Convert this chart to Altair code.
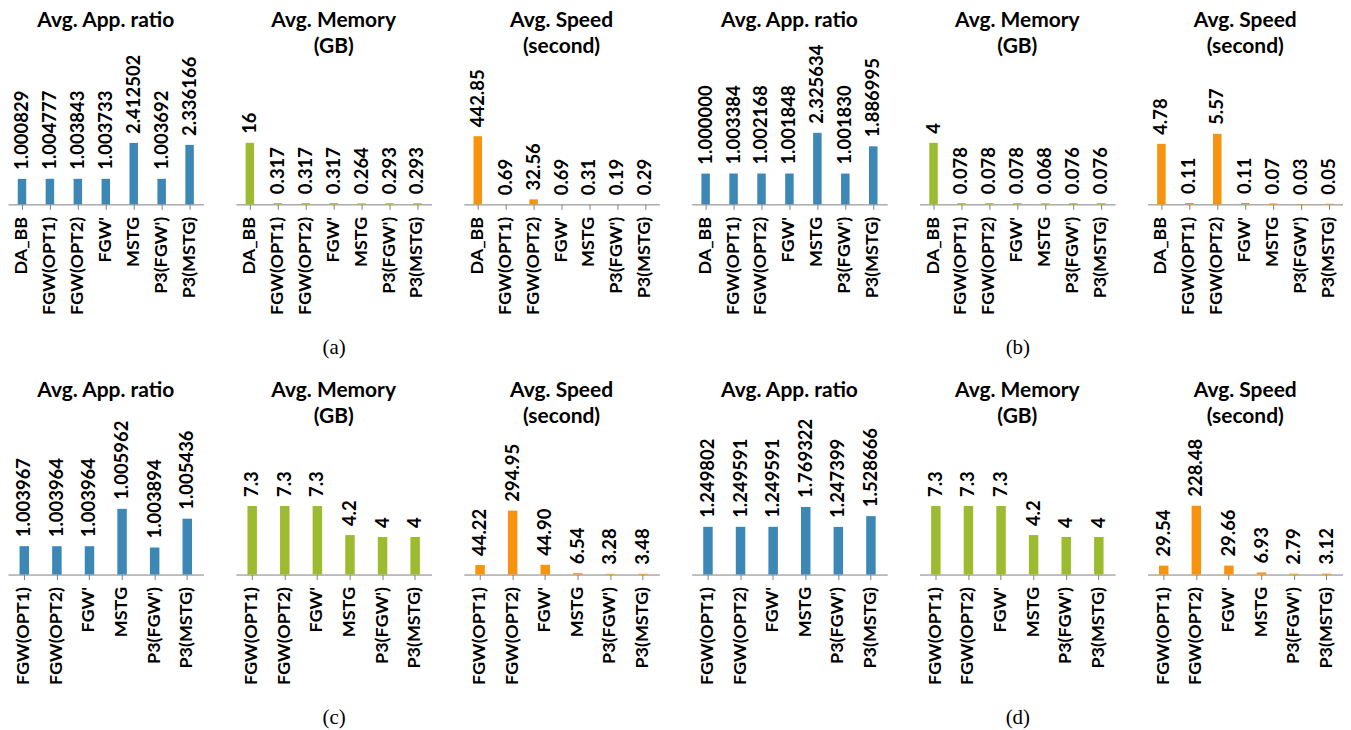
import altair as alt
import pandas as pd

# ---------------- data ----------------
cats7 = ["DA_BB", "FGW(OPT1)", "FGW(OPT2)", "FGW'", "MSTG", "P3(FGW')", "P3(MSTG)"]
cats6 = ["FGW(OPT1)", "FGW(OPT2)", "FGW'", "MSTG", "P3(FGW')", "P3(MSTG)"]

a_ratio = [1.000829, 1.004777, 1.003843, 1.003733, 2.412502, 1.003692, 2.336166]
a_mem = [16, 0.317, 0.317, 0.317, 0.264, 0.293, 0.293]
a_speed = [442.85, 0.69, 32.56, 0.69, 0.31, 0.19, 0.29]

b_ratio = [1.000000, 1.003384, 1.002168, 1.001848, 2.325634, 1.001830, 1.886995]
b_mem = [4, 0.078, 0.078, 0.078, 0.068, 0.076, 0.076]
b_speed = [4.78, 0.11, 5.57, 0.11, 0.07, 0.03, 0.05]

c_ratio = [1.003967, 1.003964, 1.003964, 1.005962, 1.003894, 1.005436]
c_mem = [7.3, 7.3, 7.3, 4.2, 4, 4]
c_speed = [44.22, 294.95, 44.90, 6.54, 3.28, 3.48]

d_ratio = [1.249802, 1.249591, 1.249591, 1.769322, 1.247399, 1.528666]
d_mem = [7.3, 7.3, 7.3, 4.2, 4, 4]
d_speed = [29.54, 228.48, 29.66, 6.93, 2.79, 3.12]

titles = [["Avg. App. ratio", " "], ["Avg. Memory", "(GB)"], ["Avg. Speed", "(second)"]]
captions = ["(a)", "(b)", "(c)", "(d)"]

# value-axis ranges (hidden axes of the original)
a_dom = [[0, 6.27], [0, 41.5], [0, 1037]]
b_dom = [[0, 5.19], [0, 10.38], [0, 12.61]]
c_dom = [[1.00245, 1.010985], [0, 17.0], [0, 737]]
d_dom = [[0, 4.18], [0, 17.0], [0, 530]]

# ---------------- style ----------------
BLUE, GREEN, ORANGE = "#3C87B5", "#9DBB2F", "#F6930F"
AXIS_GREY = "#808080"
FONT = "Lato"
PW, PH = 196, 160


def panel(cats, vals, fmt, color, title, dom, bar_size, caption=None):
    labs = [fmt(v) for v in vals]
    df = pd.DataFrame({"cat": cats, "val": vals, "lab": labs})
    axis_kw = dict(
        labelAngle=270,
        labelFont=FONT,
        labelFontSize=18,
        labelFontWeight="bold",
        labelColor="black",
        labelPadding=7,
        tickSize=5,
        tickColor=AXIS_GREY,
        domainColor=AXIS_GREY,
    )
    if caption:
        axis_kw.update(
            title=caption,
            titleFont="Liberation Serif",
            titleFontSize=21,
            titleFontWeight="normal",
            titleColor="black",
            titlePadding=22,
        )
    else:
        axis_kw.update(title=None)
    base = alt.Chart(df).encode(
        x=alt.X(
            "cat:N",
            sort=cats,
            scale=alt.Scale(paddingInner=0, paddingOuter=0),
            axis=alt.Axis(**axis_kw),
        ),
        y=alt.Y("val:Q", stack=None,
                scale=alt.Scale(domain=dom, nice=False, zero=(dom[0] == 0)), axis=None),
    )
    bars = base.mark_bar(color=color, size=bar_size)
    if dom[0] != 0:
        bars = bars.encode(y2=alt.value(PH))
    text = base.mark_text(
        angle=270, align="left", baseline="middle", dx=9,
        font=FONT, fontSize=18.5, fontWeight="bold", color="black",
    ).encode(text="lab:N")
    return alt.layer(bars, text).properties(
        width=PW,
        height=PH,
        title=alt.TitleParams(
            text=title, font=FONT, fontSize=21, fontWeight="bold", color="black",
            lineHeight=26, anchor="middle", offset=0, dy=12,
        ),
    )


def group(cats, ratio, mem, speed, doms, caption, bar_size):
    return [
        panel(cats, ratio, lambda v: f"{v:.6f}", BLUE, titles[0], doms[0], bar_size),
        panel(cats, mem, lambda v: f"{v:g}", GREEN, titles[1], doms[1], bar_size, caption),
        panel(cats, speed, lambda v: f"{v:.2f}", ORANGE, titles[2], doms[2], bar_size),
    ]


row1 = alt.hconcat(
    *group(cats7, a_ratio, a_mem, a_speed, a_dom, captions[0], 8.5),
    *group(cats7, b_ratio, b_mem, b_speed, b_dom, captions[1], 8.5),
    spacing=32.4,
)
row2 = alt.hconcat(
    *group(cats6, c_ratio, c_mem, c_speed, c_dom, captions[2], 9.5),
    *group(cats6, d_ratio, d_mem, d_speed, d_dom, captions[3], 9.5),
    spacing=32.4,
)

chart = alt.vconcat(row1, row2, spacing=22).properties(padding=0).configure_view(stroke=None)

chart.save("out.html", embed_options={"renderer": "svg", "actions": False})
